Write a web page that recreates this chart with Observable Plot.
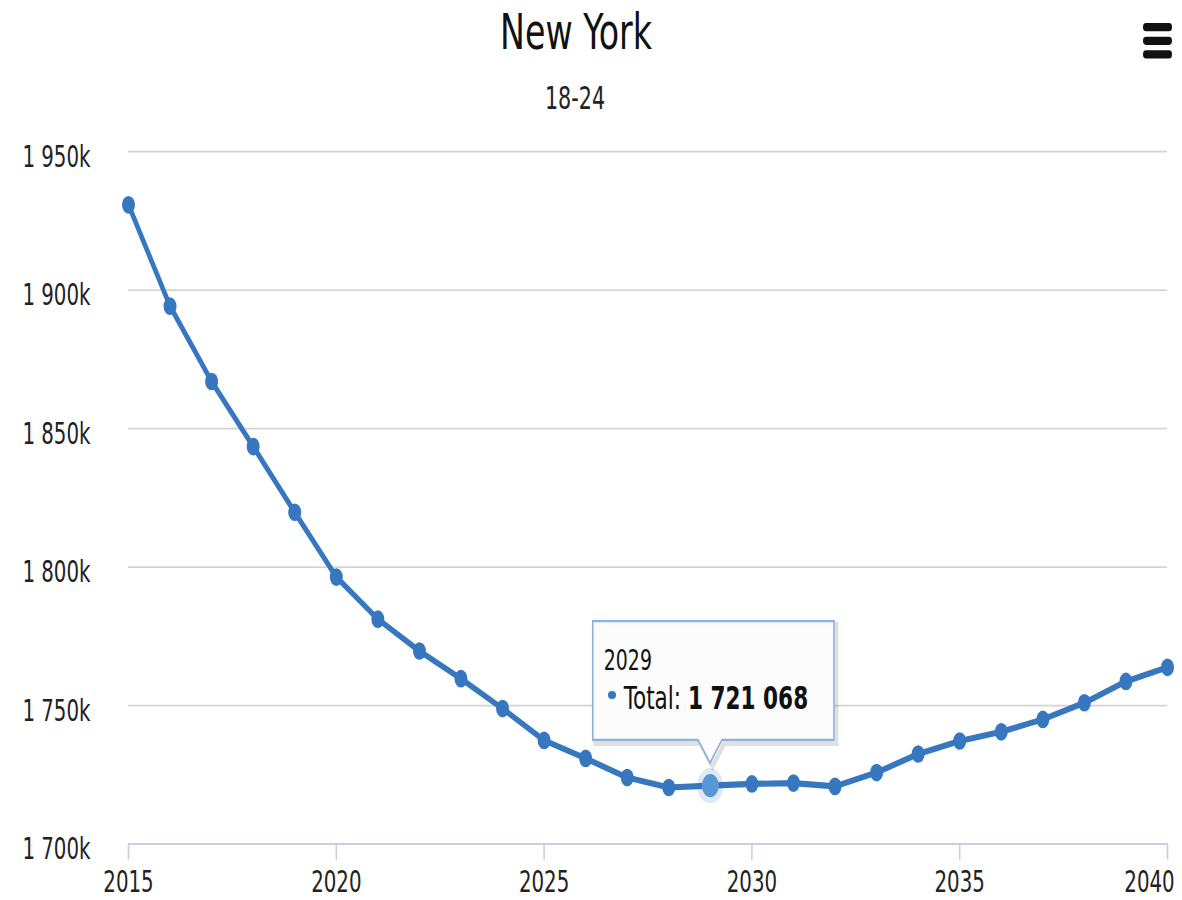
<!DOCTYPE html>
<html><head><meta charset="utf-8">
<script src="https://cdn.jsdelivr.net/npm/d3@7"></script>
<script src="https://cdn.jsdelivr.net/npm/@observablehq/plot@0.6"></script>
<style>
html,body{margin:0;padding:0;background:#fff;}
#outer{position:relative;width:1182px;height:900px;overflow:hidden;}
#wrap{position:absolute;left:0;top:0;width:1182px;transform-origin:0 0;font-family:"DejaVu Sans Condensed","DejaVu Sans",sans-serif;font-stretch:condensed;color:#111;}
#title{position:absolute;left:0;width:1152px;text-align:center;top:5px;font-size:37px;line-height:1;}
#subtitle{position:absolute;left:0;width:1150px;text-align:center;top:61px;font-size:23px;line-height:1;color:#222;}
#menu{position:absolute;left:1143px;top:0;width:29px;}
#menu span{position:absolute;left:0;width:29px;height:6px;background:#111;border-radius:3px;}
#chart{position:absolute;left:0;top:0;}
#tip{position:absolute;width:250px;height:110px;}
#tip svg{position:absolute;left:0;top:0;overflow:visible;}
#tip .yr{position:absolute;left:12px;top:20px;font-size:21px;line-height:1;}
#tip .row{position:absolute;left:16px;top:45px;font-size:24px;line-height:1;white-space:nowrap;}
#tip .dot{display:inline-block;width:8px;height:6px;border-radius:50%;margin-right:8px;vertical-align:middle;position:relative;top:-3px;}
#tip b{font-weight:bold;}
</style></head><body>
<div id="outer">
<div id="wrap">
  <div id="chart"></div>
  <div id="title"></div>
  <div id="subtitle"></div>
  <div id="menu"><span style="top:17px"></span><span style="top:27px"></span><span style="top:37px"></span></div>
  <div id="tip"></div>
</div>
</div>
<script>
// ---- data ----
const chartTitle = "New York";
const chartSubtitle = "18-24";
const seriesName = "Total";
const years = [2015,2016,2017,2018,2019,2020,2021,2022,2023,2024,2025,2026,2027,2028,2029,2030,2031,2032,2033,2034,2035,2036,2037,2038,2039,2040];
const totals = [1930800,1894200,1867000,1843500,1819800,1796400,1781200,1769700,1759700,1748900,1737400,1730900,1724000,1720400,1721068,1721700,1722000,1720800,1725800,1732500,1737200,1740500,1745000,1751000,1758700,1763800];
const yTicks = [1700000,1750000,1800000,1850000,1900000,1950000];
const xTicks = [2015,2020,2025,2030,2035,2040];
const highlightYear = 2029;

// ---- render ----
const SY = 1.36;
const H = Math.round(900 / SY);
const color = "#3677bf";
const data = years.map((y, i) => ({year: y, total: totals[i]}));
const spaced = v => d3.format(",")(v).replace(/,/g, " ");
const fmtK = d => spaced(d / 1000) + "k";
const font = '"DejaVu Sans Condensed","DejaVu Sans",sans-serif';
const lastTick = xTicks[xTicks.length - 1];

const wrap = document.getElementById("wrap");
wrap.style.height = H + "px";
wrap.style.transform = `scale(1, ${SY})`;
document.getElementById("title").textContent = chartTitle;
document.getElementById("subtitle").textContent = chartSubtitle;

const hl = data.filter(d => d.year === highlightYear);

const chart = Plot.plot({
  width: 1182,
  height: H,
  marginTop: 151 / SY,
  marginBottom: (900 - 843) / SY,
  marginLeft: 128,
  marginRight: 15,
  x: {domain: [2015, 2040], label: null},
  y: {domain: [1700000, 1950000], label: null},
  style: {fontFamily: font, fontStretch: "condensed", fontSize: "22px", background: "transparent", color: "#222"},
  marks: [
    Plot.gridY(yTicks, {stroke: "#d4d4d4", strokeOpacity: 1, strokeWidth: 1.3}),
    Plot.ruleY([1700000], {stroke: "#c3d1e3", strokeWidth: 1.6}),
    Plot.axisY(yTicks, {tickSize: 0, tickPadding: 38, tickFormat: fmtK, dy: 4, fontSize: 22, fill: "#222", label: null}),
    Plot.axisX(xTicks, {tickSize: 12, tickFormat: () => "", stroke: "#c3d1e3", strokeWidth: 1.6, label: null}),
    Plot.axisX(xTicks.slice(0, -1), {tickSize: 0, tickPadding: 20, tickFormat: d => String(d), fill: "#222", fontSize: 22, label: null}),
    Plot.axisX([lastTick], {tickSize: 0, tickPadding: 20, dx: -18, tickFormat: d => String(d), fill: "#222", fontSize: 22, label: null}),
    Plot.line(data, {x: "year", y: "total", stroke: color, strokeWidth: 4.5, strokeLinejoin: "round", strokeLinecap: "round"}),
    Plot.dot(data, {x: "year", y: "total", r: 6.5, fill: color}),
    Plot.dot(hl, {x: "year", y: "total", r: 13, fill: color, fillOpacity: 0.16}),
    Plot.dot(hl, {x: "year", y: "total", r: 8.5, fill: "#5a97d5"})
  ]
});
document.getElementById("chart").appendChild(chart);

// ---- tooltip ----
const px = chart.scale("x").apply(highlightYear);
const py = chart.scale("y").apply(hl[0].total);
const tip = document.getElementById("tip");
const boxW = 242, boxH = 88, tipX = 118, tipH = 17;
tip.style.left = (px - tipX) + "px";
tip.style.top = (py - 121) + "px";
const path = `M0.75,0.75 H${boxW} V${boxH} H${tipX + 12} L${tipX},${boxH + tipH} L${tipX - 12},${boxH} H0.75 Z`;
tip.innerHTML = `<svg width="${boxW + 6}" height="${boxH + tipH + 6}">
  <path d="${path}" transform="translate(2.5,2.5)" fill="none" stroke="#000" stroke-opacity="0.12" stroke-width="4"/>
  <path d="${path}" fill="rgba(252,252,252,0.96)" stroke="#8fb2dc" stroke-width="1.6"/>
</svg>
<div class="yr">${highlightYear}</div>
<div class="row"><span class="dot" style="background:${color}"></span>${seriesName}: <b>${spaced(hl[0].total)}</b></div>`;
</script>
</body></html>
